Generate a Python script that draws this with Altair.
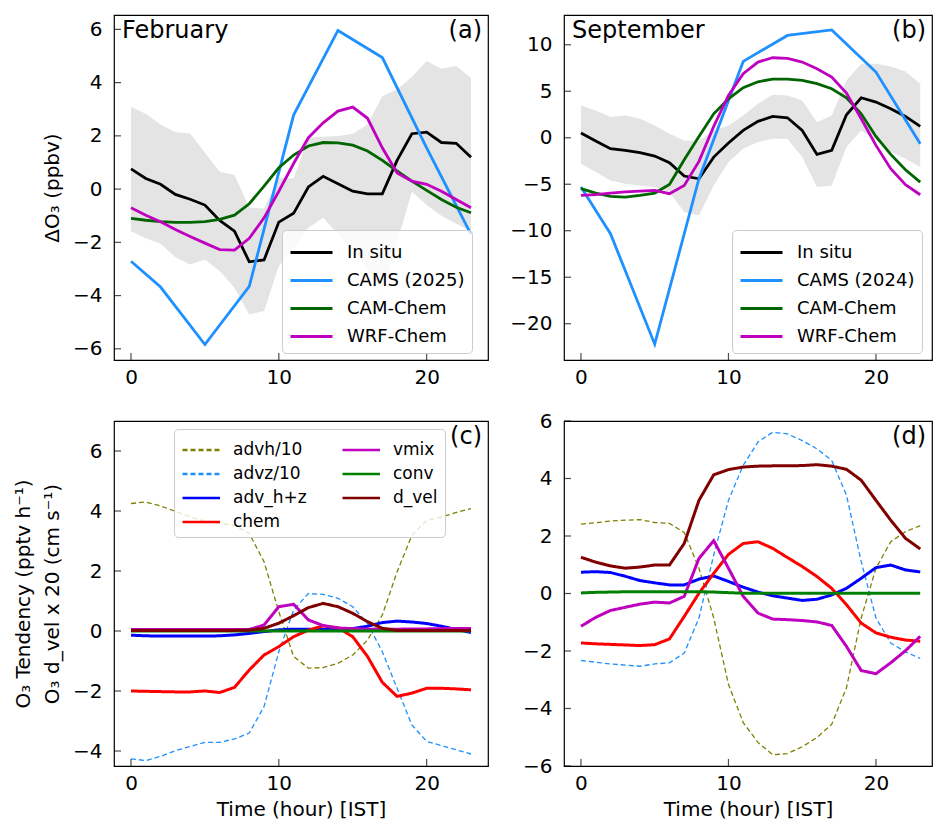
import altair as alt
import pandas as pd

hours = list(range(24))
cams_hours = [0, 2, 5, 8, 11, 14, 17, 20, 23]

# ---- Panel (a) February ----
a_insitu = [0.76, 0.40, 0.18, -0.20, -0.38, -0.60, -1.18, -1.58, -2.73, -2.66, -1.24, -0.91,
            0.08, 0.48, 0.20, -0.08, -0.18, -0.18, 1.08, 2.08, 2.14, 1.75, 1.72, 1.20]
a_upper = [3.08, 2.83, 2.43, 2.14, 2.09, 1.37, 0.65, 0.53, -0.70, -0.73, 0.43, 0.40,
           1.93, 1.97, 1.99, 2.08, 2.43, 3.49, 3.75, 4.21, 4.81, 4.52, 4.62, 4.18]
a_lower = [-1.58, -1.85, -2.05, -2.56, -2.83, -2.64, -3.08, -3.71, -4.71, -4.58, -2.89, -2.20,
           -1.45, -1.08, -1.70, -2.30, -3.00, -3.80, -2.00, -0.10, -0.60, -1.00, -1.30, -1.58]
a_cams = [-2.71, -3.68, -5.84, -3.65, 2.78, 5.96, 4.94, 1.55, -1.70]
a_camchem = [-1.10, -1.17, -1.22, -1.25, -1.25, -1.22, -1.14, -0.98, -0.55, 0.11, 0.80, 1.28,
             1.62, 1.75, 1.74, 1.65, 1.43, 1.08, 0.68, 0.30, -0.05, -0.39, -0.68, -0.89]
a_wrf = [-0.70, -0.98, -1.23, -1.52, -1.78, -2.03, -2.27, -2.29, -1.85, -1.08, -0.08, 0.96,
         1.93, 2.49, 2.93, 3.08, 2.66, 1.55, 0.61, 0.30, 0.18, -0.08, -0.39, -0.70]

# ---- Panel (b) September ----
b_insitu = [0.50, -0.36, -1.18, -1.36, -1.61, -1.97, -2.69, -4.12, -4.41, -2.08, -0.57, 0.79,
            1.76, 2.29, 2.15, 0.79, -1.79, -1.36, 2.47, 4.30, 3.84, 3.12, 2.29, 1.22]
b_upper = [3.48, 2.94, 2.22, 2.40, 2.04, 1.33, 0.43, -0.29, -0.36, 0.79, 1.33, 2.40,
           3.66, 4.62, 4.55, 4.01, 1.68, 2.40, 6.16, 7.96, 7.96, 7.67, 7.13, 5.81]
b_lower = [-2.80, -3.69, -4.59, -4.95, -5.13, -5.30, -5.84, -7.99, -8.35, -5.13, -2.62, -1.18,
           -0.47, -0.11, -0.11, -2.08, -5.30, -5.13, -1.00, 0.79, -0.29, -1.54, -2.26, -3.15]
b_cams = [-5.30, -10.32, -22.2, -4.4, 8.21, 11.0, 11.6, 7.06, -0.65]
b_camchem = [-5.48, -5.95, -6.31, -6.38, -6.20, -5.95, -5.02, -2.37, 0.14, 2.58, 4.19, 5.38,
             6.02, 6.31, 6.31, 6.16, 5.81, 5.27, 4.30, 2.58, 0.14, -1.79, -3.44, -4.77]
b_wrf = [-6.20, -6.12, -5.95, -5.81, -5.73, -5.66, -6.02, -5.13, -2.54, 1.22, 4.55, 6.88,
         8.14, 8.60, 8.53, 8.14, 7.42, 6.52, 4.80, 2.04, -0.82, -3.33, -5.05, -6.13]

# ---- Panel (c) February tendencies ----
c_advh = [4.25, 4.30, 4.17, 3.99, 3.80, 3.66, 3.58, 3.53, 3.25, 2.31, 0.64, -0.85,
          -1.24, -1.22, -1.08, -0.80, -0.30, 0.53, 1.97, 3.19, 3.69, 3.80, 3.95, 4.08]
c_advz = [-4.26, -4.32, -4.18, -3.99, -3.85, -3.71, -3.71, -3.60, -3.40, -2.52, -0.69, 0.70,
          1.25, 1.22, 1.09, 0.81, 0.25, -0.69, -1.91, -3.13, -3.68, -3.82, -3.96, -4.10]
c_advhz = [-0.14, -0.16, -0.17, -0.17, -0.17, -0.17, -0.16, -0.13, -0.08, -0.02, 0.04, 0.06,
           0.06, 0.05, 0.05, 0.08, 0.16, 0.28, 0.33, 0.30, 0.25, 0.16, 0.05, -0.05]
c_chem = [-2.00, -2.01, -2.02, -2.03, -2.03, -2.00, -2.05, -1.88, -1.30, -0.80, -0.52, -0.19,
          0.03, 0.17, 0.11, -0.19, -0.85, -1.71, -2.18, -2.07, -1.91, -1.91, -1.93, -1.96]
c_vmix = [0.05, 0.05, 0.05, 0.05, 0.05, 0.05, 0.05, 0.05, 0.05, 0.20, 0.81, 0.89,
          0.37, 0.18, 0.10, 0.08, 0.06, 0.06, 0.06, 0.07, 0.07, 0.08, 0.08, 0.08]
c_conv = [0.00, 0.00, 0.00, 0.00, 0.00, 0.00, 0.00, 0.00, 0.00, 0.00, 0.00, 0.00,
          0.00, 0.00, 0.00, 0.00, 0.00, 0.00, 0.00, 0.00, 0.00, 0.00, 0.00, 0.00]
c_dvel = [0.02, 0.02, 0.02, 0.02, 0.02, 0.02, 0.02, 0.02, 0.03, 0.09, 0.26, 0.51,
          0.78, 0.92, 0.81, 0.59, 0.31, 0.09, 0.02, 0.02, 0.02, 0.02, 0.02, 0.02]

# ---- Panel (d) September tendencies ----
d_advh = [2.41, 2.46, 2.52, 2.55, 2.57, 2.47, 2.44, 2.12, 0.88, -0.85, -3.16, -4.49,
          -5.18, -5.61, -5.57, -5.33, -5.01, -4.55, -3.28, -0.85, 0.88, 1.80, 2.15, 2.36]
d_advz = [-2.33, -2.39, -2.45, -2.49, -2.53, -2.45, -2.41, -2.07, -0.85, 1.34, 3.24, 4.46,
          5.27, 5.61, 5.55, 5.32, 5.03, 4.63, 3.42, 1.11, -0.85, -1.72, -2.03, -2.26]
d_advhz = [0.74, 0.76, 0.73, 0.60, 0.45, 0.37, 0.30, 0.30, 0.50, 0.61, 0.42, 0.22,
           0.05, -0.08, -0.16, -0.24, -0.20, -0.05, 0.18, 0.53, 0.90, 0.99, 0.82, 0.75]
d_chem = [-1.72, -1.75, -1.77, -1.79, -1.81, -1.78, -1.58, -0.80, 0.01, 0.70, 1.36, 1.74,
          1.80, 1.57, 1.25, 0.94, 0.59, 0.18, -0.39, -1.03, -1.37, -1.52, -1.62, -1.66]
d_vmix = [-1.14, -0.83, -0.59, -0.48, -0.37, -0.30, -0.33, -0.10, 1.22, 1.84, 0.88, -0.10,
          -0.68, -0.89, -0.91, -0.94, -0.99, -1.11, -1.84, -2.68, -2.79, -2.41, -1.99, -1.49]
d_conv = [0.02, 0.04, 0.05, 0.06, 0.06, 0.06, 0.06, 0.06, 0.06, 0.05, 0.03, 0.01,
          0.01, 0.01, 0.01, 0.01, 0.01, 0.01, 0.01, 0.01, 0.01, 0.01, 0.01, 0.01]
d_dvel = [1.26, 1.09, 0.96, 0.88, 0.92, 0.99, 0.99, 1.74, 3.24, 4.13, 4.31, 4.40,
          4.43, 4.44, 4.44, 4.45, 4.48, 4.43, 4.32, 3.94, 3.24, 2.55, 1.92, 1.55]

x_ticks = [0, 10, 20]
FONT = "DejaVu Sans"
WL, WR, H = 374, 368, 345


def xenc(dom, title):
    return alt.X("hour:Q", scale=alt.Scale(domain=dom, nice=False, zero=False),
                 axis=alt.Axis(values=x_ticks, title=title))


def yenc(field, dom, ticks, title):
    return alt.Y(field, scale=alt.Scale(domain=dom, nice=False, zero=False),
                 axis=alt.Axis(values=ticks, title=title))


def inward_ticks(X, dom, ticks, title, W):
    xt = alt.Chart(pd.DataFrame({"hour": x_ticks})).mark_tick(
        color="black", thickness=1.2, size=7).encode(x=X, y=alt.value(H - 3.5))
    yt = alt.Chart(pd.DataFrame({"value": ticks})).mark_tick(
        color="black", thickness=1.2, size=7).encode(
        y=yenc("value:Q", dom, ticks, title), x=alt.value(3.5))
    return [xt, yt]


def labels(left, right, W):
    t1 = alt.Chart(pd.DataFrame({"t": [left]})).mark_text(
        align="left", baseline="top", fontSize=24, font=FONT, color="black").encode(
        text="t:N", x=alt.value(8), y=alt.value(4))
    t2 = alt.Chart(pd.DataFrame({"t": [right]})).mark_text(
        align="right", baseline="top", fontSize=24, font=FONT, color="black").encode(
        text="t:N", x=alt.value(W - 6), y=alt.value(4))
    return [t1, t2]


def top_panel(insitu, upper, lower, cams, camchem, wrf, cams_name, xdom, ydom, yticks,
              ytitle, left, right, W):
    X = xenc(xdom, None)
    band_df = pd.DataFrame({"hour": hours, "lo": lower, "hi": upper})
    rows = []
    names = ["In situ", cams_name, "CAM-Chem", "WRF-Chem"]
    for h, v in zip(hours, insitu):
        rows.append({"hour": h, "value": v, "series": "In situ"})
    for h, v in zip(cams_hours, cams):
        rows.append({"hour": h, "value": v, "series": cams_name})
    for h, v in zip(hours, camchem):
        rows.append({"hour": h, "value": v, "series": "CAM-Chem"})
    for h, v in zip(hours, wrf):
        rows.append({"hour": h, "value": v, "series": "WRF-Chem"})
    line_df = pd.DataFrame(rows)
    band = alt.Chart(band_df).mark_area(color="#e4e4e4", clip=True).encode(
        x=X, y=yenc("lo:Q", ydom, yticks, ytitle), y2="hi:Q")
    leg = alt.Legend(orient="none", legendX=168, legendY=215, title=None,
                     symbolType="M-1,0H2", symbolSize=784, symbolStrokeWidth=3,
                     labelFontSize=18, labelFont=FONT, labelColor="black", labelOffset=27,
                     fillColor="rgba(255,255,255,0.8)", strokeColor="#cccccc",
                     cornerRadius=4, padding=7, rowPadding=3)
    lines = alt.Chart(line_df).mark_line(strokeWidth=2.8, clip=True).encode(
        x=X, y=yenc("value:Q", ydom, yticks, ytitle),
        color=alt.Color("series:N", sort=names,
                        scale=alt.Scale(domain=names,
                                        range=["#000000", "#1E90FF", "#006400", "#BF00BF"]),
                        legend=leg))
    return alt.layer(band, lines, *inward_ticks(X, ydom, yticks, ytitle, W),
                     *labels(left, right, W)).properties(width=W, height=H)


SERIES = ["advh/10", "advz/10", "adv_h+z", "chem", "vmix", "conv", "d_vel"]
SER_COLORS = ["#808000", "#1E90FF", "#0000FF", "#FF0000", "#BF00BF", "#008000", "#800000"]
SER_DASH = [[5, 3], [5, 3], [1, 0], [1, 0], [1, 0], [1, 0], [1, 0]]
SER_WIDTH = [1.3, 1.3, 3, 3, 3, 3, 3]


def bottom_panel(series, xdom, ydom, yticks, ytitle, right, W, show_legend):
    X = xenc(xdom, "Time (hour) [IST]")
    rows = []
    for name, w in zip(SERIES, SER_WIDTH):
        for h, v in zip(hours, series[name]):
            rows.append({"hour": h, "value": v, "series": name, "w": w})
    df = pd.DataFrame(rows)
    if show_legend:
        leg = alt.Legend(orient="none", legendX=60, legendY=8, title=None, columns=2,
                         columnPadding=30, symbolType="M-1,0H2",
                         symbolSize=625, symbolStrokeWidth=2.5,
                         labelFontSize=17, labelFont=FONT, labelColor="black",
                         labelOffset=24, fillColor="rgba(255,255,255,0.8)",
                         strokeColor="#cccccc", cornerRadius=4, padding=7, rowPadding=2)
    else:
        leg = None
    lines = alt.Chart(df).mark_line(clip=True).encode(
        x=X, y=yenc("value:Q", ydom, yticks, ytitle),
        color=alt.Color("series:N", scale=alt.Scale(domain=SERIES, range=SER_COLORS),
                        legend=leg),
        strokeDash=alt.StrokeDash("series:N", scale=alt.Scale(domain=SERIES, range=SER_DASH),
                                  legend=leg),
        strokeWidth=alt.StrokeWidth("w:Q", scale=None, legend=None))
    return alt.layer(lines, *inward_ticks(X, ydom, yticks, ytitle, W),
                     *labels("", right, W)).properties(width=W, height=H)


xdom_l = [-1.15, 24.15]
xdom_r = [-1.15, -1.15 + WR / 14.75]

pa = top_panel(a_insitu, a_upper, a_lower, a_cams, a_camchem, a_wrf, "CAMS (2025)",
               xdom_l, [-6.42, 6.54], [-6, -4, -2, 0, 2, 4, 6], "ΔO₃ (ppbv)",
               "February", "(a)", WL)
pb = top_panel(b_insitu, b_upper, b_lower, b_cams, b_camchem, b_wrf, "CAMS (2024)",
               xdom_r, [-23.9, 13.2], [-20, -15, -10, -5, 0, 5, 10], None,
               "September", "(b)", WR)
pc = bottom_panel({"advh/10": c_advh, "advz/10": c_advz, "adv_h+z": c_advhz, "chem": c_chem,
                   "vmix": c_vmix, "conv": c_conv, "d_vel": c_dvel},
                  xdom_l, [-4.5, 7], [-4, -2, 0, 2, 4, 6],
                  ["O₃ Tendency (pptv h⁻¹)", "O₃ d_vel x 20 (cm s⁻¹)"], "(c)", WL, True)
pd_ = bottom_panel({"advh/10": d_advh, "advz/10": d_advz, "adv_h+z": d_advhz, "chem": d_chem,
                    "vmix": d_vmix, "conv": d_conv, "d_vel": d_dvel},
                   xdom_r, [-6, 6], [-6, -4, -2, 0, 2, 4, 6], None, "(d)", WR, False)

chart = alt.concat(pa, pb, pc, pd_, columns=2,
                   spacing=alt.RowColnumber(row=61, column=76),
                   bounds="flush").resolve_scale(
    x="independent", y="independent", color="independent", strokeDash="independent"
).properties(
    padding={"left": 12, "top": 14, "right": 0, "bottom": 0}
).configure(font=FONT, background="white").configure_view(
    stroke="black", strokeWidth=1.2
).configure_axis(
    labelFontSize=20, titleFontSize=20, labelFont=FONT, titleFont=FONT,
    labelColor="black", titleColor="black", titleFontWeight="normal",
    grid=False, domain=False, ticks=False, tickSize=0, labelPadding=12,
    labelFlush=False, labelOverlap=False, titlePadding=10, titleLineHeight=29
).configure_axisX(labelPadding=7, titlePadding=6)

chart.save("out.html", embed_options={"renderer": "svg", "actions": False})
